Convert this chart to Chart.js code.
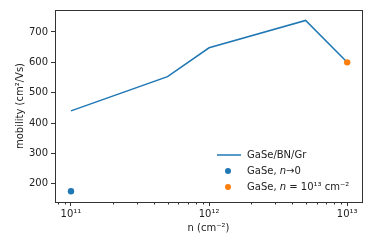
<!DOCTYPE html>
<html>
<head>
<meta charset="utf-8">
<script src="https://cdn.jsdelivr.net/npm/chart.js@4/dist/chart.umd.min.js"></script>
<style>
html,body{margin:0;padding:0;background:#fff;}
#wrap{width:374px;height:249px;position:relative;}
</style>
</head>
<body>
<div id="wrap"><canvas id="c" width="374" height="249"></canvas></div>
<script>
// ---- data ----
const lineN = [1e11, 5e11, 1e12, 5e12, 1e13];
const lineMobility = [440, 553, 648, 738, 600];
const zeroN = [1e11];
const zeroMobility = [175];
const highN = [1e13];
const highMobility = [600];
const xMajorTicks = [1e11, 1e12, 1e13];
const xTickLabels = ['10\u00B9\u00B9', '10\u00B9\u00B2', '10\u00B9\u00B3'];
const yTicks = [200, 300, 400, 500, 600, 700];
const seriesNames = ['GaSe/BN/Gr', 'GaSe, ', 'GaSe, '];

const BLUE = '#1f77b4', ORANGE = '#ff7f0e';
const FONT = "'DejaVu Sans', sans-serif";
const AXC = '#333333';

const toPts = (xs, ys) => xs.map((x, i) => ({x: x, y: ys[i]}));

const framePlugin = {
  id: 'frame',
  afterDraw(chart) {
    const {ctx, chartArea: a} = chart;
    const xs = chart.scales.x;
    ctx.save();
    ctx.strokeStyle = AXC;
    ctx.lineWidth = 1;
    ctx.strokeRect(Math.round(a.left) + 0.5, Math.round(a.top) + 0.5, Math.round(a.right - a.left), Math.round(a.bottom - a.top));
    // minor ticks
    ctx.beginPath();
    for (let k = 10; k <= 13; k++) {
      for (let m = 2; m <= 9; m++) {
        const v = m * Math.pow(10, k);
        if (v < xs.min || v > xs.max) continue;
        const px = Math.round(xs.getPixelForValue(v)) + 0.5;
        ctx.moveTo(px, Math.round(a.bottom) + 0.5);
        ctx.lineTo(px, Math.round(a.bottom) + 2.5);
      }
    }
    ctx.stroke();
    // legend
    const lx = a.right - 145, ly0 = a.bottom - 47, dy = 16;
    ctx.font = '10px ' + FONT;
    ctx.textBaseline = 'middle';
    ctx.fillStyle = '#222';
    ctx.strokeStyle = BLUE; ctx.lineWidth = 1.5;
    ctx.beginPath(); ctx.moveTo(lx, ly0); ctx.lineTo(lx + 24, ly0); ctx.stroke();
    ctx.fillText(seriesNames[0], lx + 30, ly0);
    ctx.fillStyle = BLUE; ctx.beginPath(); ctx.arc(lx + 11, ly0 + dy, 3, 0, Math.PI * 2); ctx.fill();
    ctx.fillStyle = '#222';
    let x = lx + 30;
    ctx.fillText(seriesNames[1], x, ly0 + dy); x += ctx.measureText(seriesNames[1]).width;
    ctx.font = 'italic 10px ' + FONT; ctx.fillText('n', x, ly0 + dy); x += ctx.measureText('n').width;
    ctx.font = '10px ' + FONT; ctx.fillText('\u21920', x, ly0 + dy);
    const y3 = ly0 + 2 * dy;
    ctx.fillStyle = ORANGE; ctx.beginPath(); ctx.arc(lx + 11, y3, 3, 0, Math.PI * 2); ctx.fill();
    ctx.fillStyle = '#222';
    x = lx + 30;
    ctx.fillText(seriesNames[2], x, y3); x += ctx.measureText(seriesNames[2]).width;
    ctx.font = 'italic 10px ' + FONT; ctx.fillText('n', x, y3); x += ctx.measureText('n').width;
    ctx.font = '10px ' + FONT; ctx.fillText(' = 10\u00B9\u00B3 cm\u207B\u00B2', x, y3);
    ctx.restore();
  }
};

new Chart(document.getElementById('c'), {
  type: 'scatter',
  data: {
    datasets: [
      {label: 'GaSe/BN/Gr', type: 'line', data: toPts(lineN, lineMobility), borderColor: BLUE, borderWidth: 1.5, pointRadius: 0, fill: false, tension: 0, order: 2},
      {label: 'GaSe, n→0', data: toPts(zeroN, zeroMobility), backgroundColor: BLUE, borderWidth: 0, pointRadius: 3.2, order: 1},
      {label: 'GaSe, n=1e13', data: toPts(highN, highMobility), backgroundColor: ORANGE, borderWidth: 0, pointRadius: 3.2, order: 0}
    ]
  },
  options: {
    responsive: false,
    animation: false,
    devicePixelRatio: 1,
    layout: {padding: {left: 14, right: 12, top: 10, bottom: 15}},
    plugins: {legend: {display: false}, tooltip: {enabled: false}},
    scales: {
      x: {
        type: 'logarithmic',
        min: 7.66e10, max: 1.28e13,
        afterBuildTicks: s => { s.ticks = xMajorTicks.map(v => ({value: v})); },
        afterFit: s => { s.height = 32; },
        border: {display: true, color: AXC, width: 1},
        grid: {display: true, drawOnChartArea: false, drawTicks: true, tickLength: 4, color: AXC, tickColor: AXC},
        ticks: {
          color: '#222', font: {family: FONT, size: 10}, padding: 2, maxRotation: 0, autoSkip: false,
          callback: (v) => { const i = xMajorTicks.indexOf(v); return i >= 0 ? xTickLabels[i] : ''; }
        },
        title: {display: true, text: 'n (cm\u207B\u00B2)', color: '#222', font: {family: FONT, size: 10}, padding: {top: 2, bottom: 0}}
      },
      y: {
        type: 'linear',
        min: 139.6, max: 772.5,
        afterBuildTicks: s => { s.ticks = yTicks.map(v => ({value: v})); },
        afterFit: s => { s.width = 41; },
        border: {display: true, color: AXC, width: 1},
        grid: {display: true, drawOnChartArea: false, drawTicks: true, tickLength: 4, color: AXC, tickColor: AXC},
        ticks: {color: '#222', font: {family: FONT, size: 10}, padding: 3},
        title: {display: true, text: 'mobility (cm\u00B2/Vs)', color: '#222', font: {family: FONT, size: 10}, padding: {top: 0, bottom: 2}}
      }
    }
  },
  plugins: [framePlugin]
});
</script>
</body>
</html>
